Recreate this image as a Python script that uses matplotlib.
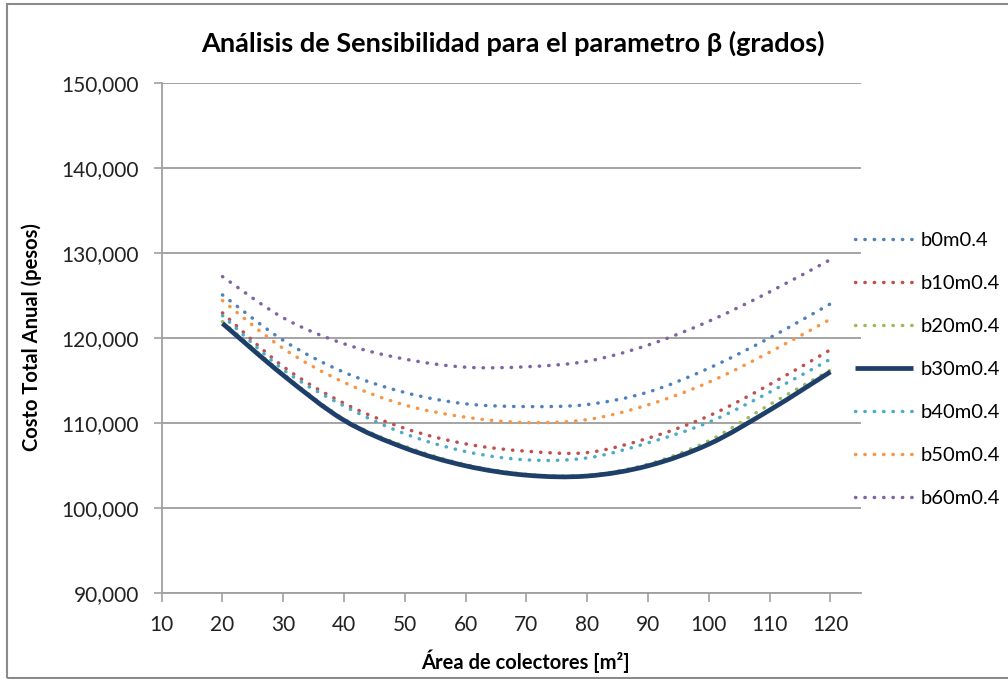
import matplotlib
matplotlib.use('Agg')
import matplotlib.pyplot as plt
from matplotlib.path import Path
from matplotlib.patches import PathPatch, Rectangle
from matplotlib.lines import Line2D
from matplotlib.ticker import FuncFormatter

plt.rcParams['font.family'] = ['Lato', 'DejaVu Sans']

# area de colectores (m2)
area = [20, 30, 40, 50, 60, 70, 80, 90, 100, 110, 120]

# costo total anual (pesos) para cada inclinacion beta
b0m04 = [125050, 119700, 115950, 113570, 112240, 111920, 112160, 113620, 116430, 120000, 124000]
b10m04 = [122930, 116620, 112300, 109350, 107530, 106670, 106510, 108200, 110820, 114510, 118600]
b20m04 = [121900, 115750, 110450, 107250, 105100, 103950, 103850, 105150, 107900, 112150, 116200]
b30m04 = [121700, 115600, 110300, 107050, 104950, 103850, 103750, 104950, 107500, 111500, 116000]
b40m04 = [122620, 116250, 111990, 108720, 106630, 105650, 105880, 107650, 110080, 113610, 117500]
b50m04 = [124380, 118750, 114760, 112100, 110670, 110040, 110390, 112120, 114780, 118310, 122200]
b60m04 = [127200, 122350, 119300, 117500, 116550, 116600, 117250, 119150, 121950, 125400, 129200]

series = [
    ('b0m0.4', b0m04, '#4F81BD'),
    ('b10m0.4', b10m04, '#C0504D'),
    ('b20m0.4', b20m04, '#9BBB59'),
    ('b30m0.4', b30m04, '#1F3F6B'),
    ('b40m0.4', b40m04, '#4BACC6'),
    ('b50m0.4', b50m04, '#F79646'),
    ('b60m0.4', b60m04, '#8064A2'),
]


def smooth_path(xs, ys):
    # cubic bezier segments through the points (Excel style smoothed line)
    pts = list(zip(xs, ys))
    n = len(pts)
    verts = [pts[0]]
    codes = [Path.MOVETO]
    for i in range(n - 1):
        p0 = pts[i - 1] if i > 0 else pts[i]
        p1 = pts[i]
        p2 = pts[i + 1]
        p3 = pts[i + 2] if i + 2 < n else pts[i + 1]
        c1 = (p1[0] + (p2[0] - p0[0]) / 6, p1[1] + (p2[1] - p0[1]) / 6)
        c2 = (p2[0] - (p3[0] - p1[0]) / 6, p2[1] - (p3[1] - p1[1]) / 6)
        verts += [c1, c2, p2]
        codes += [Path.CURVE4] * 3
    return Path(verts, codes)


fig = plt.figure(figsize=(10.08, 6.79), dpi=100)
ax = fig.add_axes([0.1604, 0.1267, 0.6936, 0.7515])

dots = (0, (0.1, 2.6))
handles = []
for name, vals, col in series:
    if name == 'b30m0.4':
        lw, ls, cap = 3.4, '-', 'butt'
    else:
        lw, ls, cap = 2.5, dots, 'round'
    patch = PathPatch(smooth_path(area, vals), fill=False, edgecolor=col,
                      linewidth=lw, linestyle=ls, capstyle=cap, zorder=3)
    ax.add_patch(patch)
    handles.append(Line2D([], [], color=col, linewidth=lw, linestyle=ls,
                          dash_capstyle=cap, solid_capstyle=cap, label=name))

ax.set_xlim(10, 125)
ax.set_ylim(90000, 150000)
ax.set_xticks(range(10, 121, 10))
ax.set_yticks(range(90000, 150001, 10000))
ax.yaxis.set_major_formatter(FuncFormatter(lambda v, p: f'{int(v):,}'))

ax.grid(axis='y', color='#8c8c8c', linewidth=1.1)
ax.set_axisbelow(True)
for s in ['top', 'right']:
    ax.spines[s].set_visible(False)
for s in ['left', 'bottom']:
    ax.spines[s].set_color('#a0a0a0')
    ax.spines[s].set_linewidth(1.3)
ax.tick_params(axis='both', colors='#a0a0a0', labelcolor='#222222',
               labelsize=15, width=1.2)
ax.tick_params(axis='x', length=6.2, pad=10)
ax.tick_params(axis='y', length=5.5, pad=11)

fig.text(525 / 1008, 1 - 669 / 679, 'Área de colectores [m²]', ha='center',
         va='baseline', fontsize=14.5, fontweight='bold')
fig.text(32 / 1008, 1 - 337 / 679, 'Costo Total Anual (pesos)', ha='center',
         va='center', rotation=90, fontsize=14.5, fontweight='bold')
fig.text(0.509, 0.936, 'Análisis de Sensibilidad para el parametro β (grados)',
         ha='center', va='center', fontsize=19.5, fontweight='bold')

fig.legend(handles=handles, loc='upper left', bbox_to_anchor=(0.848, 0.658),
           frameon=False, fontsize=14.5, handlelength=2.9, handletextpad=0.35,
           labelspacing=1.28, borderpad=0, borderaxespad=0)

# chart area border
fig.patches.append(Rectangle((0.0069, 0.0022), 1.1, 0.992, transform=fig.transFigure,
                             fill=False, edgecolor='#8a8a8a', linewidth=1.5))

fig.savefig('out.png', dpi=100)
